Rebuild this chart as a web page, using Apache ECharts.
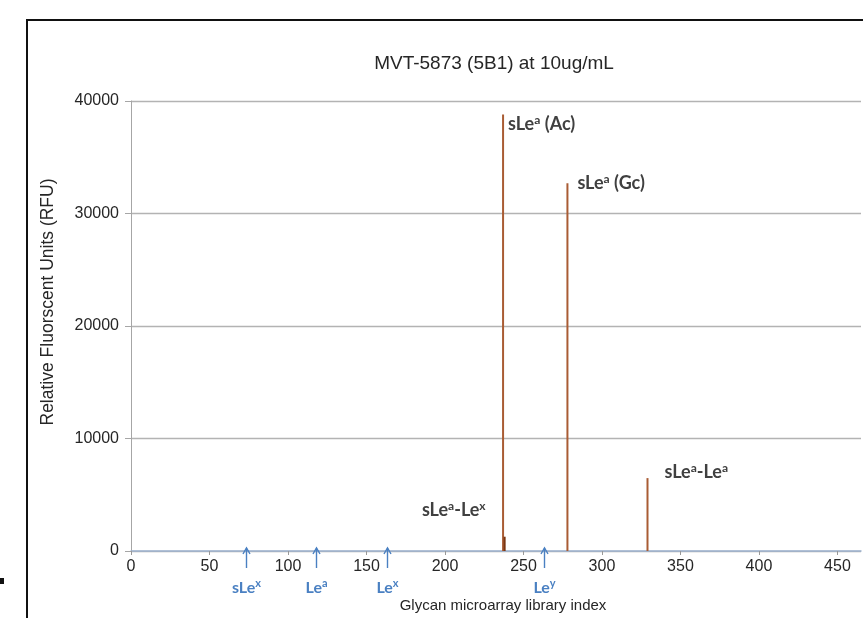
<!DOCTYPE html>
<html>
<head>
<meta charset="utf-8">
<script src="https://cdn.jsdelivr.net/npm/echarts@6/dist/echarts.min.js"></script>
<style>
  html, body { margin: 0; padding: 0; background: #fff; }
  #main { width: 863px; height: 618px; }
</style>
</head>
<body>
<div id="main"></div>
<script>
var myChart = echarts.init(document.getElementById('main'));

// glycan index / RFU of the peaks
var peakIndex = [237, 238, 278, 329];
var peakRFU = [38800, 1270, 32700, 6480];
var peakNames = ['sLe{s|a} (Ac)', 'sLe{s|a}-Le{s|x}', 'sLe{s|a} (Gc)', 'sLe{s|a}-Le{s|a}'];

// reference glycans marked under the axis
var markIndex = [73, 118, 163, 263];
var markNames = ['sLe{s|x}', 'Le{s|a}', 'Le{s|x}', 'Le{s|y}'];

var yTicks = [0, 10000, 20000, 30000, 40000];

var barColor = '#a95c34';
var blue = '#4a80c2';
var dark = '#404040';

// label placement next to each bar top
var labelPos = [
    { position: [6, 10], align: 'left' },
    { position: [-18, -27], align: 'right' },
    { position: [11, 0], align: 'left' },
    { position: [18, -6], align: 'left' }
];

function richFor(color, size) {
    return {
        s: {
            fontFamily: 'Lato',
            fontWeight: 'bold',
            fontSize: size,
            color: color,
            verticalAlign: 'top',
            lineHeight: 20,
            padding: [0, 0, 8, 0]
        }
    };
}

var barData = peakIndex.map(function (x, i) {
    return {
        value: [x, peakRFU[i]],
        itemStyle: { color: peakRFU[i] < 2000 ? '#7a3612' : barColor },
        label: {
            show: true,
            formatter: peakNames[i],
            position: labelPos[i].position,
            align: labelPos[i].align,
            verticalAlign: 'middle',
            fontFamily: 'Lato',
            fontWeight: 'bold',
            fontSize: 18,
            lineHeight: 20,
            color: dark,
            rich: richFor(dark, 12)
        }
    };
});

option = {
    animation: false,
    title: {
        text: 'MVT-5873 (5B1) at 10ug/mL',
        left: 489,
        top: 49,
        textAlign: 'center',
        textStyle: {
            fontFamily: 'Liberation Sans',
            fontWeight: 'normal',
            fontSize: 19,
            color: '#262626'
        }
    },
    graphic: [
        {
            type: 'rect',
            shape: { x: 27, y: 20, width: 900, height: 700 },
            style: { fill: 'none', stroke: '#111', lineWidth: 2 },
            z: -1
        },
        {
            type: 'rect',
            shape: { x: 0, y: 578, width: 4, height: 6 },
            style: { fill: '#111' }
        }
    ],
    grid: {
        left: 131,
        right: 2,
        top: 101,
        bottom: 67
    },
    xAxis: {
        type: 'value',
        min: 0,
        max: 465,
        interval: 50,
        name: 'Glycan microarray library index',
        nameLocation: 'middle',
        nameGap: 47,
        nameTextStyle: {
            fontFamily: 'Liberation Sans',
            fontSize: 15,
            color: '#262626',
            padding: [0, 0, 0, 14]
        },
        splitLine: { show: false },
        axisLine: { lineStyle: { color: '#9db3cf', width: 1.5 } },
        axisTick: { length: 4, lineStyle: { color: '#999' } },
        axisLabel: {
            fontFamily: 'Liberation Sans',
            fontSize: 16,
            color: '#262626',
            margin: 8,
            showMaxLabel: false
        }
    },
    yAxis: {
        type: 'value',
        min: 0,
        max: 40000,
        interval: 10000,
        name: 'Relative Fluorscent Units (RFU)',
        nameLocation: 'middle',
        nameGap: 74,
        nameTextStyle: {
            fontFamily: 'Liberation Sans',
            fontSize: 17.5,
            color: '#262626',
            padding: [0, 0, 0, 48]
        },
        axisLine: { show: true, lineStyle: { color: '#a6a6a6' } },
        axisTick: { show: true, length: 6, lineStyle: { color: '#a6a6a6' } },
        axisLabel: {
            fontFamily: 'Liberation Sans',
            fontSize: 16,
            color: '#262626',
            margin: 12,
            formatter: function (v) { return yTicks.indexOf(v) >= 0 ? String(v) : ''; }
        },
        splitLine: { lineStyle: { color: '#b3b3b3', width: 1.3 } }
    },
    series: [
        {
            type: 'bar',
            barWidth: 2,
            data: barData,
            z: 3
        },
        {
            type: 'custom',
            clip: false,
            data: markIndex.map(function (x, i) { return [x, i]; }),
            renderItem: function (params, api) {
                var p = api.coord([api.value(0), 0]);
                var x = Math.round(p[0]) + 0.5;
                var y = p[1];
                return {
                    type: 'group',
                    children: [
                        {
                            type: 'line',
                            shape: { x1: x, y1: y - 3, x2: x, y2: y + 17 },
                            style: { stroke: blue, lineWidth: 1.4 }
                        },
                        {
                            type: 'polyline',
                            shape: { points: [[x - 3.5, y + 3], [x, y - 3], [x + 3.5, y + 3]] },
                            style: { stroke: blue, lineWidth: 1.4, fill: 'none' }
                        },
                        {
                            type: 'text',
                            style: {
                                text: markNames[params.dataIndex],
                                x: x,
                                y: y + 37,
                                align: 'center',
                                verticalAlign: 'middle',
                                fontFamily: 'Lato',
                                fontWeight: 'bold',
                                fontSize: 16,
                                lineHeight: 20,
                                fill: blue,
                                rich: richFor(blue, 11)
                            }
                        }
                    ]
                };
            },
            z: 4
        }
    ]
};

myChart.setOption(option);
</script>
</body>
</html>
